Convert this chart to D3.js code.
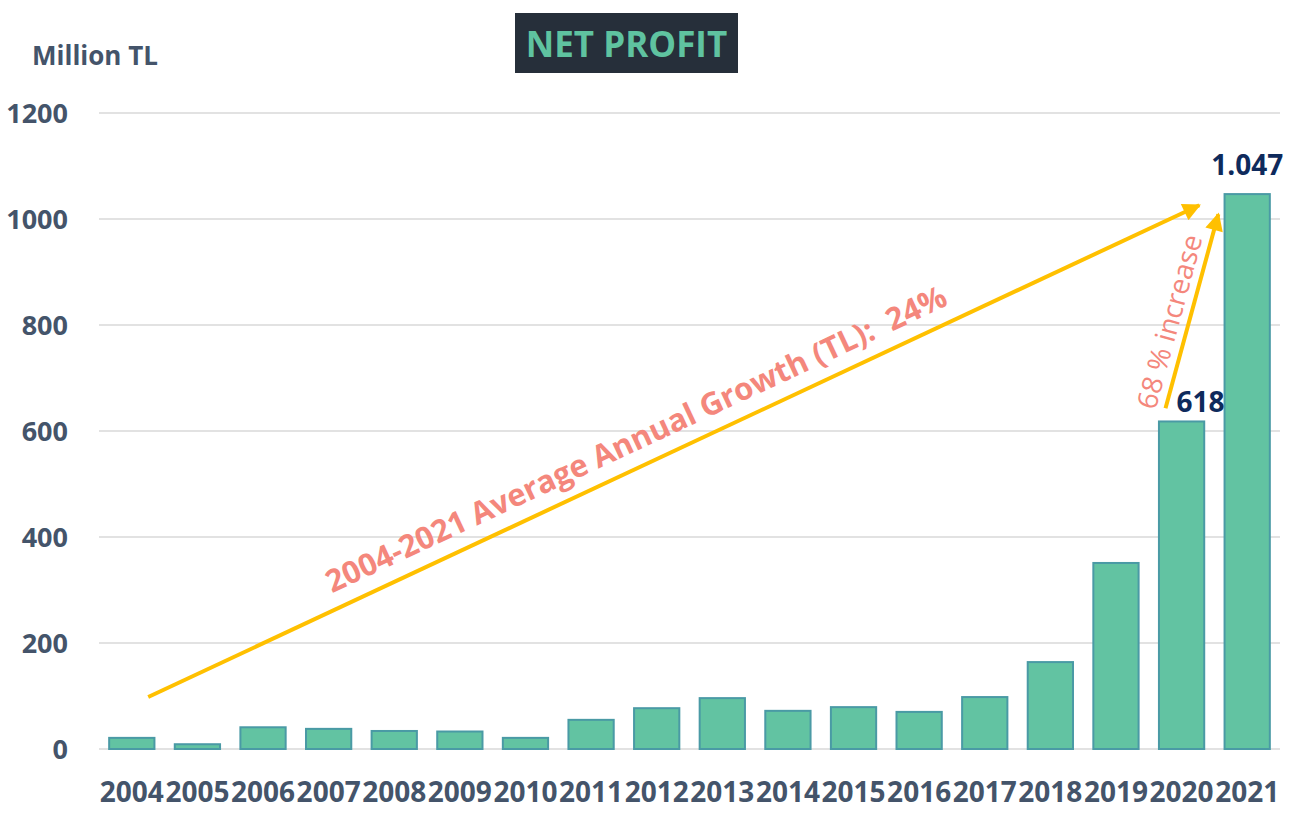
<!DOCTYPE html>
<html>
<head>
<meta charset="utf-8">
<title>net profit</title>
<script src="https://d3js.org/d3.v7.min.js"></script>
<style>
  body { margin: 0; background: #fff; }
  text { font-family: "Open Sans", "DejaVu Sans", sans-serif; }
</style>
</head>
<body>
<div id="wrapper"></div>
<script>
// values (million TL)
const years = ["2004","2005","2006","2007","2008","2009","2010","2011","2012",
               "2013","2014","2015","2016","2017","2018","2019","2020","2021"];
const profit = [21, 9, 41, 38, 34, 33, 21, 55, 77, 96, 72, 79, 70, 98, 164, 351, 618, 1047];
const yTicks = [0, 200, 400, 600, 800, 1000, 1200];
const valueLabels = [{ year: "2020", text: "618", dx: 19, dy: -9 },
                     { year: "2021", text: "1.047", dx: 0, dy: -19 }];

const data = years.map((y, i) => ({ year: y, value: profit[i] }));

const dimensions = {
  width: 1292, height: 814,
  margin: { top: 113, right: 12, bottom: 65, left: 99 }
};
dimensions.boundedWidth = dimensions.width - dimensions.margin.left - dimensions.margin.right;
dimensions.boundedHeight = dimensions.height - dimensions.margin.top - dimensions.margin.bottom;

const axisColor = "#44546A";
const gold = "#FFC000";
const salmon = "#F4877C";

const svg = d3.select("#wrapper").append("svg")
  .attr("width", dimensions.width).attr("height", dimensions.height);

const bounds = svg.append("g")
  .attr("transform", `translate(${dimensions.margin.left},${dimensions.margin.top})`);

const xScale = d3.scaleBand().domain(years)
  .range([0, dimensions.boundedWidth]).paddingInner(0.31).paddingOuter(0.155);
const yScale = d3.scaleLinear().domain([0, 1200]).range([dimensions.boundedHeight, 0]);

// gridlines
bounds.append("g").selectAll("line").data(yTicks).join("line")
  .attr("x1", 0).attr("x2", dimensions.boundedWidth)
  .attr("y1", d => yScale(d)).attr("y2", d => yScale(d))
  .attr("stroke", "#D9D9D9").attr("stroke-width", 1.5);

// y axis labels
const yAxis = bounds.append("g").call(d3.axisLeft(yScale).tickValues(yTicks)
  .tickFormat(d3.format("d")).tickSize(0).tickPadding(31));
yAxis.select(".domain").remove();
yAxis.selectAll("text").attr("font-size", 27).attr("font-weight", 700)
  .attr("fill", axisColor).attr("dy", "0.36em").style("font-family", "'Open Sans', sans-serif");

// x axis labels
const xAxis = bounds.append("g").attr("transform", `translate(0,${dimensions.boundedHeight})`)
  .call(d3.axisBottom(xScale).tickSize(0).tickPadding(33));
xAxis.select(".domain").remove();
xAxis.selectAll("text").attr("font-size", 28).attr("font-weight", 700)
  .attr("fill", axisColor).attr("dy", "0.71em").style("font-family", "'Open Sans', sans-serif");

// bars
bounds.append("g").selectAll("rect").data(data).join("rect")
  .attr("x", d => xScale(d.year))
  .attr("y", d => yScale(d.value))
  .attr("width", xScale.bandwidth())
  .attr("height", d => yScale(0) - yScale(d.value))
  .attr("fill", "#62C3A2").attr("stroke", "#4A9AA5").attr("stroke-width", 2);

// value labels
const valueOf = y => profit[years.indexOf(y)];
bounds.append("g").selectAll("text").data(valueLabels).join("text")
  .attr("x", d => xScale(d.year) + xScale.bandwidth() / 2 + d.dx)
  .attr("y", d => yScale(valueOf(d.year)) + d.dy)
  .attr("text-anchor", "middle").attr("font-size", 28).attr("font-weight", 700)
  .attr("fill", "#0E2A5C").text(d => d.text);

// annotations: arrows positioned by year (offset in steps from band centre) and value
const px = (year, f) => xScale(year) + xScale.bandwidth() / 2 + f * xScale.step();
const arrows = [
  { from: ["2004", 0.25, 98], to: ["2020", 0.27, 1026], label: "2004-2021 Average Annual Growth (TL):  24%",
    t: 0.475, dy: -16, size: 31, weight: 700 },
  { from: ["2020", -0.245, 643], to: ["2021", -0.44, 1009], label: "68 % increase",
    t: 0.42, dy: -9, size: 28, weight: 400 }
];

svg.append("defs").append("marker")
  .attr("id", "head").attr("viewBox", "0 0 10 10").attr("refX", 9).attr("refY", 5)
  .attr("markerUnits", "userSpaceOnUse").attr("markerWidth", 20).attr("markerHeight", 18)
  .attr("orient", "auto")
  .append("path").attr("d", "M0,0 L10,5 L0,10 Z").attr("fill", gold);

arrows.forEach(a => {
  const x1 = px(a.from[0], a.from[1]), y1 = yScale(a.from[2]);
  const x2 = px(a.to[0], a.to[1]), y2 = yScale(a.to[2]);
  bounds.append("line")
    .attr("x1", x1).attr("y1", y1).attr("x2", x2).attr("y2", y2)
    .attr("stroke", gold).attr("stroke-width", 4).attr("marker-end", "url(#head)");
  const ang = Math.atan2(y2 - y1, x2 - x1) * 180 / Math.PI;
  const cx = x1 + (x2 - x1) * a.t, cy = y1 + (y2 - y1) * a.t;
  bounds.append("text")
    .attr("transform", `translate(${cx},${cy}) rotate(${ang})`)
    .attr("dy", a.dy).attr("text-anchor", "middle")
    .attr("font-size", a.size).attr("font-weight", a.weight)
    .attr("fill", salmon).style("white-space", "pre").text(a.label);
});

// axis unit
svg.append("text").attr("x", 32).attr("y", 65)
  .attr("font-size", 26).attr("font-weight", 700).attr("fill", axisColor).text("Million TL");

// title box
svg.append("rect").attr("x", 515).attr("y", 13).attr("width", 223).attr("height", 60).attr("fill", "#262F3A");
svg.append("text").attr("x", 626.5).attr("y", 57).attr("text-anchor", "middle")
  .attr("font-size", 35).attr("font-weight", 700).attr("fill", "#5FC3A0").text("NET PROFIT");
</script>
</body>
</html>
